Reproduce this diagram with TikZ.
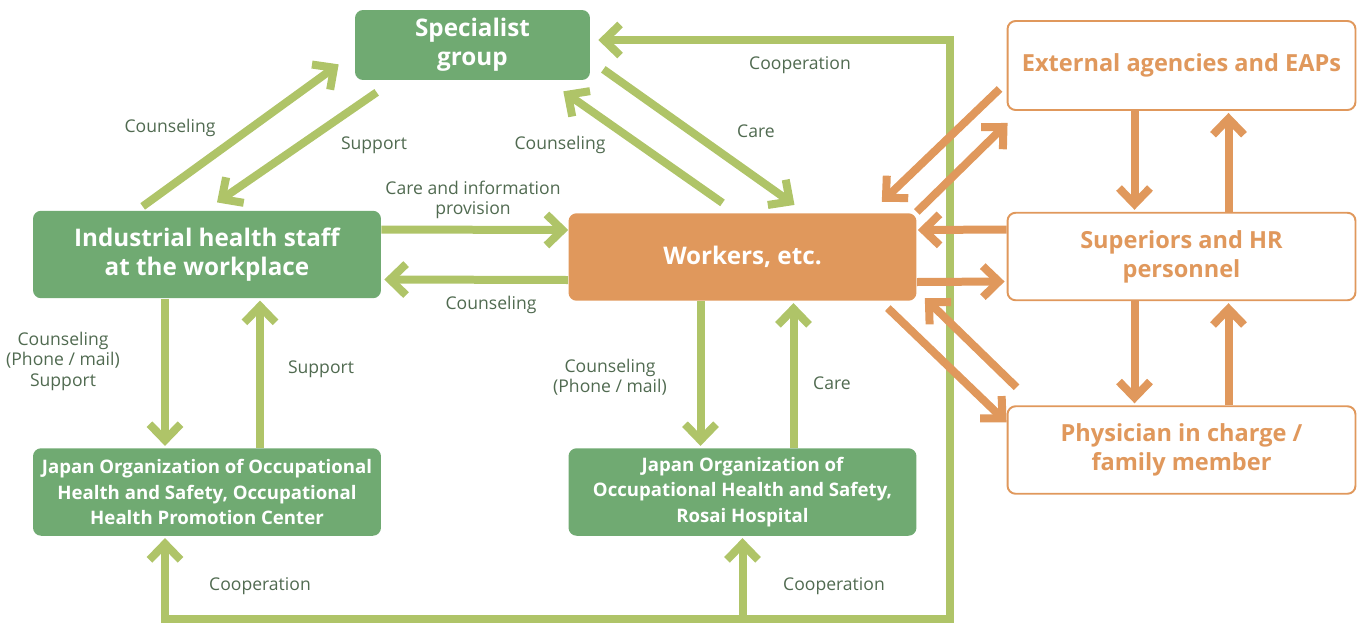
\documentclass[tikz,border=0pt]{standalone}
\usepackage{fontspec}
\setmainfont{Open Sans}
\usetikzlibrary{arrows.meta}

\definecolor{boxgreen}{RGB}{112,170,114}
\definecolor{arrgreen}{RGB}{175,196,104}
\definecolor{boxorange}{RGB}{224,152,92}
\definecolor{txtgreen}{RGB}{80,106,80}

\tikzset{
	chev/.tip={Straight Barb[length=0.32cm,width=0.62cm,line join=miter,line cap=butt]},
	gline/.style={draw=arrgreen,line width=0.16cm,line join=miter},
	garr/.style={gline,-chev},
	oarr/.style={draw=boxorange,line width=0.16cm,-chev},
	gbox/.style={fill=boxgreen,rounded corners=0.16cm,text=white,align=center,inner sep=0pt,
		minimum width=6.96cm,minimum height=1.75cm,font=\bfseries\fontsize{13.8}{16.5}\selectfont},
	obox/.style={gbox,fill=white,draw=boxorange,line width=1.1pt,text=boxorange,
		font=\bfseries\fontsize{13.4}{16.5}\selectfont},
	lbl/.style={text=txtgreen,align=center,font=\fontsize{10}{11.7}\selectfont}
}

\begin{document}
\begin{tikzpicture}[x=0.02cm,y=-0.02cm]
	\useasboundingbox (0,0) rectangle (1363,626);

	\node[gbox,minimum width=4.7cm,minimum height=1.4cm] (spec) at (472.5,45) {Specialist\\group};
	\node[gbox] (ind) at (207,254.5) {Industrial health staff\\at the workplace};
	\node[gbox,fill=boxorange] (wrk) at (742.5,257) {Workers, etc.};
	\node[gbox,font=\bfseries\fontsize{10.6}{14.5}\selectfont] (ohpc) at (207,492) {Japan Organization of Occupational\\Health and Safety, Occupational\\Health Promotion Center};
	\node[gbox,font=\bfseries\fontsize{10.6}{14.5}\selectfont] (rosai) at (742.5,492) {Japan Organization of\\Occupational Health and Safety,\\Rosai Hospital};
	\node[obox,minimum height=1.78cm] (ext) at (1181.5,65.5) {External agencies and EAPs};
	\node[obox] (sup) at (1181.5,256.5) {Superiors and HR\\personnel};
	\node[obox] (phys) at (1181.5,450) {Physician in charge /\\family member};

	\coordinate (loop) at (950,619);
	\draw[gline,chev-chev] ([shift={(-42,2)}]ohpc.south) |- (loop) |- ([shift={(8,-5)}]spec.east);
	\draw[garr] (rosai.south |- loop) -- ([shift={(0,2)}]rosai.south);

	\draw[garr] ([shift={(110,-4)}]ind.north west) -- ([shift={(-16,-16)}]spec.south west);
	\draw[garr] ([shift={(22,12)}]spec.south west) -- ([shift={(10,-8)}]ind.north);
	\draw[garr] ([shift={(-20,-10)}]wrk.north) -- ([shift={(-27,11)}]spec.south east);
	\draw[garr] ([shift={(13,-11)}]spec.south east) -- ([shift={(52,-8)}]wrk.north);

	\draw[garr] ([shift={(0,-25)}]ind.east) -- ([shift={(0,-27)}]wrk.west);
	\draw[garr] ([shift={(0,23)}]wrk.west) -- ([shift={(3,25)}]ind.east);

	\draw[garr] ([shift={(-42,0)}]ind.south) -- ([shift={(-42,-2)}]ohpc.north);
	\draw[garr] ([shift={(53,0)}]ohpc.north) -- ([shift={(53,2)}]ind.south);
	\draw[garr] ([shift={(-42,0)}]wrk.south) -- ([shift={(-42,-2)}]rosai.north);
	\draw[garr] ([shift={(51,0)}]rosai.north) -- ([shift={(51,2)}]wrk.south);

	\draw[oarr] ([shift={(-7,-22)}]ext.south west) -- ([shift={(-35,-11)}]wrk.north east);
	\draw[oarr] ([shift={(0,-1)}]wrk.north east) -- ([shift={(1,12)}]ext.south west);
	\draw[oarr] ([shift={(0,-27)}]sup.west) -- ([shift={(1,-27)}]wrk.east);
	\draw[oarr] ([shift={(0,25)}]wrk.east) -- ([shift={(-2,25)}]sup.west);
	\draw[oarr] ([shift={(-29,7)}]wrk.south east) -- ([shift={(0,17)}]phys.north west);
	\draw[oarr] ([shift={(10,-18)}]phys.north west) -- ([shift={(8,-3)}]wrk.south east);

	\draw[oarr] ([shift={(-47,0)}]ext.south) -- ([shift={(-47,-2)}]sup.north);
	\draw[oarr] ([shift={(47,0)}]sup.north) -- ([shift={(47,2)}]ext.south);
	\draw[oarr] ([shift={(-47,0)}]sup.south) -- ([shift={(-47,-2)}]phys.north);
	\draw[oarr] ([shift={(47,0)}]phys.north) -- ([shift={(47,2)}]sup.south);

	\node[lbl] (lcoun1) at (170,128) {Counseling};
	\node[lbl] (lsupp1) at (374,145) {Support};
	\node[lbl] (lcoun2) at (560,145) {Counseling};
	\node[lbl] (lcare1) at (756,131) {Care};
	\node[lbl] (lcoop1) at (800,65) {Cooperation};
	\node[lbl] (lcare2) at (473,200) {Care and information\\provision};
	\node[lbl] (lcoun3) at (491,305) {Counseling};
	\node[lbl] (lcoun4) at (63,361) {Counseling\\(Phone / mail)\\Support};
	\node[lbl] (lsupp2) at (321,369) {Support};
	\node[lbl] (lcoun5) at (610,377) {Counseling\\(Phone / mail)};
	\node[lbl] (lcare3) at (832,383) {Care};
	\node[lbl] (lcoop2) at (260,586) {Cooperation};
	\node[lbl] (lcoop3) at (834,586) {Cooperation};
\end{tikzpicture}
\end{document}
